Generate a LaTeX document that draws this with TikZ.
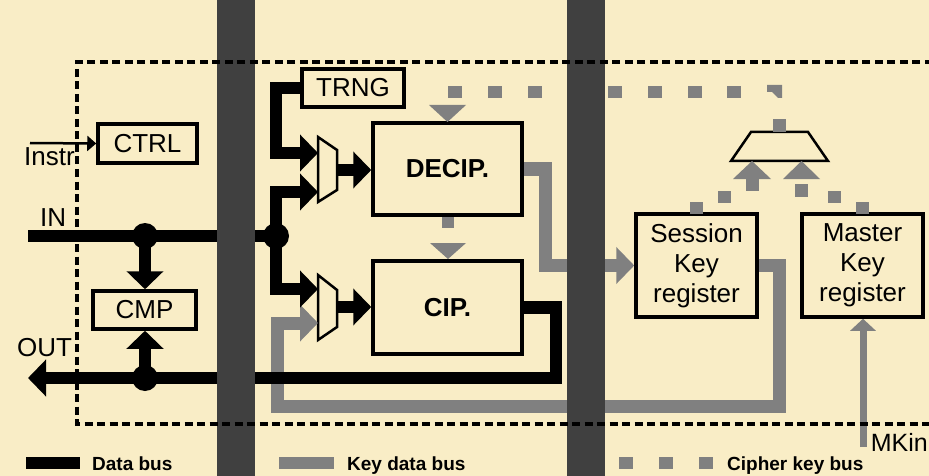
\documentclass[tikz,border=0pt]{standalone}
\usepackage{fontspec}
\setmainfont{Liberation Sans}
\usetikzlibrary{arrows.meta}
\definecolor{bg}{HTML}{F9EDC6}
\definecolor{kgray}{HTML}{808080}
\definecolor{barc}{HTML}{404040}
\begin{document}
\begin{tikzpicture}[x=1pt,y=-1pt,
  box/.style={draw=black, line width=3.5pt, inner sep=0pt, align=center, font=\fontsize{26}{30}\selectfont},
  bbox/.style={box, font=\bfseries\fontsize{26}{30}\selectfont},
  lbl/.style={inner sep=0pt, font=\fontsize{26}{30}\selectfont},
  leg/.style={inner sep=0pt, anchor=base west, font=\bfseries\fontsize{19}{22}\selectfont},
  dbus/.style={draw=black, line width=12.5pt},
  kbus/.style={draw=kgray, line width=13pt},
  darrow/.style={-{Triangle[length=18pt,width=36pt]}},
  karrow/.style={-{Triangle[length=18pt,width=36pt]}},
  dot/.style={circle, fill=black, inner sep=0pt, minimum size=26pt},
  muxs/.style={draw=black, line width=2.5pt, line join=miter},
  ksq/.style={fill=kgray}
]
\useasboundingbox (0,0) rectangle (929,476);
\fill[bg] (0,0) rectangle (929,476);

% boxes
\node[box, minimum width=99pt, minimum height=39pt] (ctrl) at (147.5,143.5) {CTRL};
\node[box, minimum width=103pt, minimum height=38pt] (cmp) at (144.5,310) {CMP};
\node[box, minimum width=102pt, minimum height=38pt] (trng) at (353,88) {TRNG};
\node[bbox, minimum width=149pt, minimum height=92pt] (decip) at (447.5,169) {DECIP.};
\node[bbox, minimum width=149pt, minimum height=93pt] (cip) at (447.5,307.5) {CIP.};
\node[box, minimum width=121pt, minimum height=103pt] (skr) at (696.5,265.5) {Session\\Key\\register};
\node[box, minimum width=121pt, minimum height=103pt] (mkr) at (862.5,265.5) {Master\\Key\\register};

% coordinates
\coordinate (inL) at (28,236);
\coordinate (outL) at (28,378);
\coordinate (m1a) at (318,153);
\coordinate (m1b) at (318,192);
\coordinate (m1o) at (337,170);
\coordinate (m2a) at (318,289);
\coordinate (m2b) at (318,323);
\coordinate (m2o) at (337,307);
\coordinate (kc1) at (779,406);
\coordinate (kc2) at (277,406);
\coordinate (mkin) at (863,447);
\coordinate (instrL) at (30,143);

% muxes
\draw[muxs] (318,137) -- (337,150) -- (337,190) -- (318,202) -- cycle;
\draw[muxs] (318,275) -- (337,290) -- (337,327) -- (318,340) -- cycle;
\draw[muxs] (751,132) -- (808,132) -- (828,161) -- (731,161) -- cycle;

% key data bus
\draw[kbus, karrow] (decip.east) -- ++(22,0) |- (skr.west);
\draw[kbus, karrow] (skr.east) -| (kc1) -- (kc2) |- (m2b);
\draw[draw=kgray, line width=7pt, -{Triangle[length=12pt,width=25pt]}] (mkin) -- (mkin |- mkr.south);

% cipher key bus
\foreach \x in {448,488,528,568,608,648,688,727} \fill[ksq] (\x,86) rectangle ++(13.5,12);
\fill[ksq] (767,85) -- (782,85) -- (782,98) -- (778,98) -- (772,92) -- (767,92) -- cycle;
\fill[ksq] (773,119) rectangle (786,132);
\fill[ksq] (429,105) -- (466,105) -- (447.5,122) -- cycle;
\fill[ksq] (442,217) rectangle (454,228);
\fill[ksq] (430,243) -- (466,243) -- (448,259) -- cycle;
\fill[ksq] (733,179) -- (771,179) -- (752,161) -- cycle;
\fill[ksq] (745.5,178) rectangle (758.5,191);
\fill[ksq] (783,179) -- (820,179) -- (801.5,161) -- cycle;
\fill[ksq] (717.5,190.5) rectangle (731,203);
\fill[ksq] (689.5,202) rectangle (703,214);
\fill[ksq] (795,183.5) rectangle (808,197);
\fill[ksq] (827.5,190.5) rectangle (841,203);
\fill[ksq] (855.5,202) rectangle (869,214);

% data bus
\node[dot] (j1) at (145,236) {};
\node[dot] (j2) at (276,236) {};
\node[dot] (j3) at (145,378) {};
\draw[dbus] (inL) -- (j2.center);
\draw[dbus, darrow] (j1.center) -- (j1.center |- cmp.north);
\draw[dbus, darrow] (j3.center) -- (j3.center |- cmp.south);
\draw[dbus, darrow] (cip.east) -- ++(32,0) |- (outL);
\draw[dbus, darrow] (trng.west) -| (j2.center |- m1a) -- (m1a);
\draw[dbus, darrow] (j2.center) |- (m1b);
\draw[dbus, darrow] (j2.center) |- (m2a);
\draw[dbus, darrow] (m1o) -- (m1o -| decip.west);
\draw[dbus, darrow] (m2o) -- (m2o -| cip.west);

% vertical bars
\fill[barc] (217,0) rectangle (255,476);
\fill[barc] (567,0) rectangle (605,476);

% dashed boundary
\draw[line width=3.5pt, dash pattern=on 8pt off 4.5pt] (945,62) -- (77,62) -- (77,424) -- (945,424);

% control input
\draw[line width=2.5pt, -{Triangle[length=9pt,width=15pt]}] (instrL) -- (ctrl.west);

% labels
\node[lbl, anchor=base west] (instr) at (24,165) {Instr};
\node[lbl, anchor=base west] (inlbl) at (40,226) {IN};
\node[lbl, anchor=base west] (outlbl) at (17,356) {OUT};
\node[lbl, anchor=base east, font=\fontsize{25}{30}\selectfont] (mkinlbl) at (928,451) {MKin};

% legend
\fill[black] (26,457) rectangle (80,469);
\node[leg] (l1) at (92,470) {Data bus};
\fill[kgray] (279,457) rectangle (334,469);
\node[leg] (l2) at (347,470) {Key data bus};
\foreach \x in {619,659,699} \fill[ksq] (\x,457) rectangle ++(13.5,12);
\node[leg] (l3) at (727,470) {Cipher key bus};
\end{tikzpicture}
\end{document}
